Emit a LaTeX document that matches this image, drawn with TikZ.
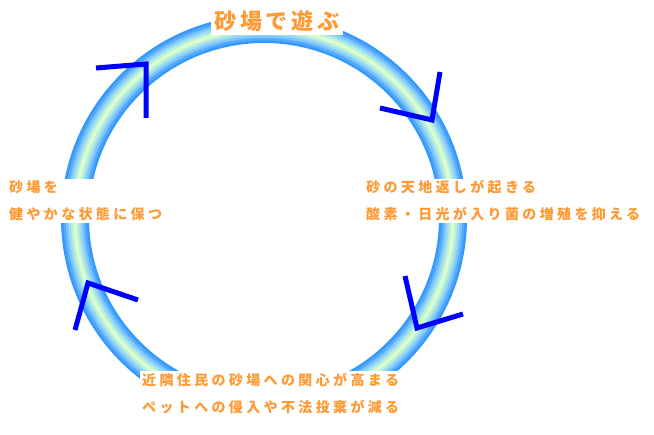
\documentclass[tikz,border=0pt]{standalone}
\usepackage{fontspec}
\newfontfamily\jpfont[LetterSpace=24]{Noto Sans CJK JP}
\newfontfamily\jptitlefont[LetterSpace=18]{Noto Sans CJK JP}
\definecolor{textorange}{RGB}{255,153,51}
\definecolor{arrowblue}{RGB}{0,0,255}
\definecolor{ringA}{RGB}{51,153,255}
\definecolor{ringB}{RGB}{85,170,255}
\definecolor{ringC}{RGB}{128,196,255}
\definecolor{ringD}{RGB}{153,221,238}
\definecolor{ringE}{RGB}{187,240,221}
\definecolor{ringF}{RGB}{221,255,204}

\begin{document}
\begin{tikzpicture}[
  x=1pt,y=-1pt,
  turn/.style={draw=arrowblue,line width=5pt,line join=miter},
  label/.style={font=\jpfont\bfseries\fontsize{14}{27}\selectfont,text=textorange,
    fill=white,align=left,inner sep=2pt},
  title/.style={font=\jptitlefont\bfseries\fontsize{22}{26}\selectfont,text=textorange,
    fill=white,inner sep=3pt},
]
\useasboundingbox (0,0) rectangle (654,435);
% ring
\foreach \w/\c in {28/ringA,23/ringB,18/ringC,13/ringD,8/ringE,3/ringF}
  {\draw[line width=\w pt,draw=\c] (264,218) circle (189);}
% arrows
\draw[turn] (96,68) -- (146,64) -- (146,118);
\draw[turn] (380,108) -- (432,120) -- (440,72);
\draw[turn] (405,276) -- (417,328) -- (463,314);
\draw[turn] (75,330) -- (88,283) -- (138,300);
% texts
\node[title] (play) at (277,21) {砂場で遊ぶ};
\node[label,anchor=west] (turnover) at (364,201)
  {砂の天地返しが起きる\\酸素・日光が入り菌の増殖を抑える};
\node[label,anchor=north west,text depth=40pt] (clean) at (140,371)
  {近隣住民の砂場への関心が高まる\\ペットへの侵入や不法投棄が減る};
\node[label,anchor=west] (healthy) at (7,201)
  {砂場を\\健やかな状態に保つ};
\end{tikzpicture}
\end{document}
